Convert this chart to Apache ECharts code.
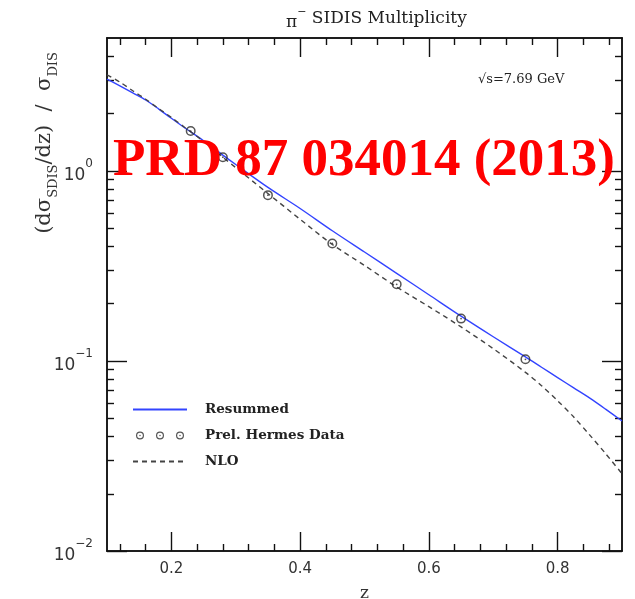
<!DOCTYPE html>
<html><head><meta charset="utf-8">
<script src="https://cdn.jsdelivr.net/npm/echarts@6/dist/echarts.min.js"></script>
<style>html,body{margin:0;padding:0;background:#fff}#c{width:635px;height:599px}</style>
</head><body><div id="c"></div>
<script>
// ---- data ----
const curveZ      = [0.10,0.12,0.14,0.16,0.18,0.20,0.22,0.25,0.28,0.30,0.35,0.40,0.45,0.50,0.55,0.60,0.65,0.70,0.75,0.775,0.80,0.825,0.85,0.875,0.90];
const resummed    = [3.04,2.80,2.57,2.36,2.12,1.89,1.69,1.44,1.21,1.08,0.818,0.634,0.484,0.374,0.289,0.223,0.172,0.134,0.105,0.0926,0.0817,0.0721,0.0637,0.0556,0.0483];
const nlo         = [3.20,2.93,2.64,2.38,2.13,1.91,1.70,1.43,1.18,1.04,0.76,0.556,0.41,0.318,0.245,0.193,0.151,0.116,0.0871,0.0741,0.0617,0.0507,0.0407,0.0324,0.0255];
const hermesZ     = [0.23,0.28,0.35,0.45,0.55,0.65,0.75];
const hermesY     = [1.62,1.18,0.745,0.415,0.253,0.167,0.102];
const xMajor      = [0.2,0.4,0.6,0.8];
const xMinor      = [0.12,0.16,0.24,0.28,0.32,0.36,0.44,0.48,0.52,0.56,0.64,0.68,0.72,0.76,0.84,0.88];
const yMajor      = [0.01,0.1,1];
const yMinor      = [0.02,0.03,0.04,0.05,0.06,0.07,0.08,0.09,0.2,0.3,0.4,0.5,0.6,0.7,0.8,0.9,2,3,4];

function ringAt(dx){
  return `M${dx},5 A5,5 0 1,1 ${dx+10},5 A5,5 0 1,1 ${dx},5 Z M${dx+1.5},5 A3.5,3.5 0 1,0 ${dx+8.5},5 A3.5,3.5 0 1,0 ${dx+1.5},5 Z M${dx+4.1},5 A0.9,0.9 0 1,1 ${dx+5.9},5 A0.9,0.9 0 1,1 ${dx+4.1},5 Z`;
}
const ring1 = 'path://' + ringAt(0);
const ring3 = 'path://' + ringAt(0) + ' ' + ringAt(25) + ' ' + ringAt(50);

const black = '#111';
function xAx(pos, vals, len, withLabel){
  return {type:'value', position:pos, min:0.1, max:0.9,
    axisLine:{show:true, onZero:false, lineStyle:{color:black,width:1.5}},
    axisTick:{show:true, inside:true, length:len, customValues:vals, lineStyle:{color:black,width:1.4}},
    axisLabel: withLabel ? {show:true, customValues:vals, margin:11, fontSize:15, color:'#333', fontFamily:'DejaVu Sans',
      formatter:v=>v.toFixed(1)} : {show:false},
    splitLine:{show:false},
    name: withLabel ? 'z' : '', nameLocation:'middle', nameGap:34,
    nameTextStyle:{fontFamily:'DejaVu Serif', fontSize:17, color:'#333'}
  };
}
function yAx(pos, vals, len, withLabel){
  return {type:'log', logBase:10, position:pos, min:0.01, max:5,
    axisLine:{show:true, onZero:false, lineStyle:{color:black,width:1.5}},
    axisTick:{show:true, inside:true, length:len, customValues:vals, lineStyle:{color:black,width:1.4}},
    axisLabel: withLabel ? {show:true, customValues:vals, margin:14,
      formatter:v=>{const e=Math.round(Math.log10(v)); return '{b|10}{s|'+(e===0?'0':'\u2212'+(-e))+'}';},
      rich:{b:{fontSize:17,color:'#333',fontFamily:'DejaVu Sans',lineHeight:26,verticalAlign:'bottom'},
            s:{fontSize:12,color:'#333',fontFamily:'DejaVu Sans',lineHeight:14,verticalAlign:'top'}}} : {show:false},
    splitLine:{show:false}
  };
}

const chart = echarts.init(document.getElementById('c'), null, {renderer:'canvas'});
chart.setOption({
  backgroundColor:'#fff',
  animation:false,
  grid:{left:107, right:13, top:38, bottom:48, containLabel:false, outerBoundsMode:'none'},
  title:{text:'{p|\u03c0}{s|\u2212} SIDIS Multiplicity', left:281, top:2,
    textStyle:{fontFamily:'DejaVu Serif', fontSize:17, fontWeight:'normal', color:'#222',
      rich:{p:{fontFamily:'DejaVu Serif',fontSize:17,color:'#222',lineHeight:24,verticalAlign:'bottom'},
            s:{fontFamily:'DejaVu Serif',fontSize:11,color:'#222',lineHeight:12,verticalAlign:'top'}}}},
  legend:{orient:'vertical', left:132, top:402, padding:0, itemWidth:54, itemHeight:8, itemGap:11,
    textStyle:{fontFamily:'DejaVu Serif', fontWeight:'bold', fontSize:13.5, color:'#222', padding:[0,0,0,13], lineHeight:15},
    data:[{name:'Resummed', itemStyle:{opacity:0}},{name:'Prel. Hermes Data', icon:ring3},{name:'NLO', itemStyle:{opacity:0}}]},
  xAxis:[xAx('bottom',xMajor,19,true), xAx('bottom',xMinor,7,false),
         xAx('top',xMajor,19,false), xAx('top',xMinor,7,false)],
  yAxis:[yAx('left',yMajor,20,true), yAx('left',yMinor,7,false),
         yAx('right',yMajor,20,false), yAx('right',yMinor,7,false)],
  series:[
    {name:'Resummed', type:'line', xAxisIndex:0, yAxisIndex:0, symbol:'none', smooth:0.3,
     data:curveZ.map((z,i)=>[z,resummed[i]]), lineStyle:{color:'#3344ff', width:1.4}, itemStyle:{color:'#3344ff'}},
    {name:'Prel. Hermes Data', type:'scatter', xAxisIndex:0, yAxisIndex:0, symbol:ring1, symbolSize:10,
     data:hermesZ.map((z,i)=>[z,hermesY[i]]), itemStyle:{color:'#2a2a2a'}, z:5},
    {name:'NLO', type:'line', xAxisIndex:0, yAxisIndex:0, symbol:'none', smooth:0.3,
     data:curveZ.map((z,i)=>[z,nlo[i]]), lineStyle:{color:'#444', width:1.4, type:[5,4]}, itemStyle:{color:'#444'}}
  ],
  graphic:[
    {type:'text', x:45, y:143, rotation:Math.PI/2, z:10,
     style:{text:'(d\u03c3{sub|SDIS}/dz)  /  \u03c3{sub|DIS}', fontFamily:'DejaVu Serif', fontSize:21, fill:'#333',
       align:'center', verticalAlign:'middle', lineHeight:30,
       rich:{sub:{fontFamily:'DejaVu Serif', fontSize:13, fill:'#333', lineHeight:15, verticalAlign:'bottom'}}}},
    {type:'text', x:478, y:80, z:10,
     style:{text:'\u221as=7.69 GeV', fontFamily:'DejaVu Serif', fontSize:13, fill:'#222', align:'left', verticalAlign:'middle'}},
    {type:'text', x:113, y:161, z:100,
     style:{text:'PRD 87 034014 (2013)', fontFamily:'Liberation Serif', fontWeight:'bold', fontSize:53, fill:'#ff0000',
       align:'left', verticalAlign:'middle'}}
  ]
});
</script></body></html>
